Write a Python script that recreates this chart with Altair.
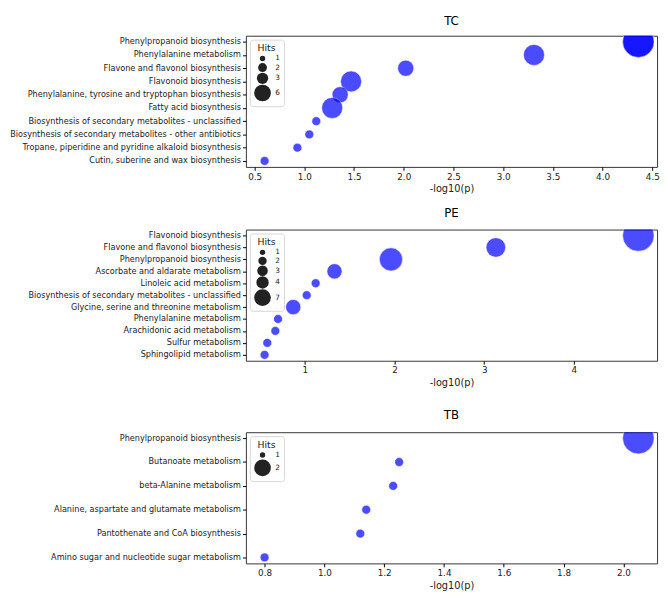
import altair as alt
import pandas as pd

# ---------------- data ----------------
tc_paths = [
    "Phenylpropanoid biosynthesis",
    "Phenylalanine metabolism",
    "Flavone and flavonol biosynthesis",
    "Flavonoid biosynthesis",
    "Phenylalanine, tyrosine and tryptophan biosynthesis",
    "Fatty acid biosynthesis",
    "Biosynthesis of secondary metabolites - unclassified",
    "Biosynthesis of secondary metabolites - other antibiotics",
    "Tropane, piperidine and pyridine alkaloid biosynthesis",
    "Cutin, suberine and wax biosynthesis",
    "Phenylpropanoid biosynthesis",
]
tc_logp = [4.36, 3.31, 2.02, 1.47, 1.36, 1.28, 1.12, 1.05, 0.93, 0.60, 4.36]
tc_hits = [6, 3, 2, 3, 2, 3, 1, 1, 1, 1, 6]

pe_paths = [
    "Flavonoid biosynthesis",
    "Flavone and flavonol biosynthesis",
    "Phenylpropanoid biosynthesis",
    "Ascorbate and aldarate metabolism",
    "Linoleic acid metabolism",
    "Biosynthesis of secondary metabolites - unclassified",
    "Glycine, serine and threonine metabolism",
    "Phenylalanine metabolism",
    "Arachidonic acid metabolism",
    "Sulfur metabolism",
    "Sphingolipid metabolism",
]
pe_logp = [4.72, 3.13, 1.96, 1.33, 1.12, 1.02, 0.87, 0.70, 0.67, 0.58, 0.55]
pe_hits = [7, 3, 4, 2, 1, 1, 2, 1, 1, 1, 1]

tb_paths = [
    "Phenylpropanoid biosynthesis",
    "Butanoate metabolism",
    "beta-Alanine metabolism",
    "Alanine, aspartate and glutamate metabolism",
    "Pantothenate and CoA biosynthesis",
    "Amino sugar and nucleotide sugar metabolism",
]
tb_logp = [2.05, 1.25, 1.23, 1.14, 1.12, 0.80]
tb_hits = [2, 1, 1, 1, 1, 1]

tc_ticks = [0.5, 1.0, 1.5, 2.0, 2.5, 3.0, 3.5, 4.0, 4.5]
pe_ticks = [1, 2, 3, 4]
tb_ticks = [0.8, 1.0, 1.2, 1.4, 1.6, 1.8, 2.0]

FONT = "DejaVu Sans"
S_MIN, S_MAX = 81, 1031
LEG_MIN, LEG_MAX = 30, 290


def panel(name, paths, logp, hits, ticks, tick_fmt, title_offset):
    df = pd.DataFrame({"pathway": paths, "logp": logp, "Hits": hits})
    df["hits_legend"] = df["Hits"]
    lo, hi = min(hits), max(hits)
    xmin, xmax = min(logp), max(logp)
    m = 0.05 * (xmax - xmin)
    n = len(dict.fromkeys(paths))
    legend_vals = sorted(set(hits))

    base = alt.Chart(df)
    points = base.mark_circle(
        color="#0000ff", opacity=0.7, stroke="white", strokeWidth=0.5, clip=True
    ).encode(
        x=alt.X("logp:Q", title="-log10(p)",
                scale=alt.Scale(domain=[xmin - m, xmax + m], nice=False, zero=False),
                axis=alt.Axis(values=ticks, format=tick_fmt, grid=False, domain=False,
                              tickSize=3.5, tickColor="black", labelFontSize=9,
                              labelFont=FONT, labelColor="#222", titleFont=FONT,
                              titleFontSize=10, titleFontWeight="normal",
                              titleColor="#222", titlePadding=3, labelPadding=2)),
        y=alt.Y("pathway:N", sort=None, title=None,
                scale=alt.Scale(type="point", padding=0.05 * (n - 1)),
                axis=alt.Axis(grid=False, domain=False, tickSize=3.5, tickColor="black",
                              labelFontSize=8.3, labelFont=FONT, labelColor="#222",
                              labelPadding=2, labelLimit=240,
                              minExtent=238, maxExtent=238)),
        size=alt.Size("Hits:Q",
                      scale=alt.Scale(domain=[lo, hi], range=[S_MIN, S_MAX], zero=False),
                      legend=None),
    )
    # legend-only layer (draws no marks), with the smaller legend symbols of the reference
    legend_layer = base.transform_filter("false").mark_circle(
        color="#222", opacity=1
    ).encode(
        size=alt.Size("hits_legend:Q",
                      scale=alt.Scale(domain=[lo, hi], range=[LEG_MIN, LEG_MAX], zero=False),
                      legend=alt.Legend(
                          title="Hits", values=legend_vals, format="d", orient="top-left",
                          offset=4, padding=4, fillColor="white", strokeColor="#d6d6d6",
                          cornerRadius=3, titleFont=FONT, titleFontSize=9.5,
                          titleFontWeight="normal", titleColor="#222",
                          titleAnchor="middle", titlePadding=2,
                          labelFont=FONT, labelFontSize=7.5, labelColor="#222",
                          labelOffset=4, rowPadding=0,
                          symbolFillColor="#222", symbolOpacity=1,
                          symbolStrokeWidth=0)),
    )
    return (
        alt.layer(points, legend_layer)
        .resolve_scale(size="independent")
        .properties(
            width=420, height=134,
            title=alt.TitleParams(name, fontSize=12, fontWeight="normal", font=FONT,
                                  anchor="middle", frame="group", offset=title_offset,
                                  color="black"),
        )
    )


top_two = alt.vconcat(
    panel("TC", tc_paths, tc_logp, tc_hits, tc_ticks, ".1f", 8),
    panel("PE", pe_paths, pe_logp, pe_hits, pe_ticks, "d", 10),
    spacing=12,
)

chart = (
    alt.vconcat(
        top_two,
        panel("TB", tb_paths, tb_logp, tb_hits, tb_ticks, ".1f", 10),
        spacing=21,
    )
    .resolve_scale(size="independent", x="independent", y="independent")
    .properties(padding={"left": 0, "top": 0, "right": 0, "bottom": 0})
    .configure_view(stroke="#333", strokeWidth=1)
)

chart.save("out.html", embed_options={"renderer": "svg", "actions": False})
